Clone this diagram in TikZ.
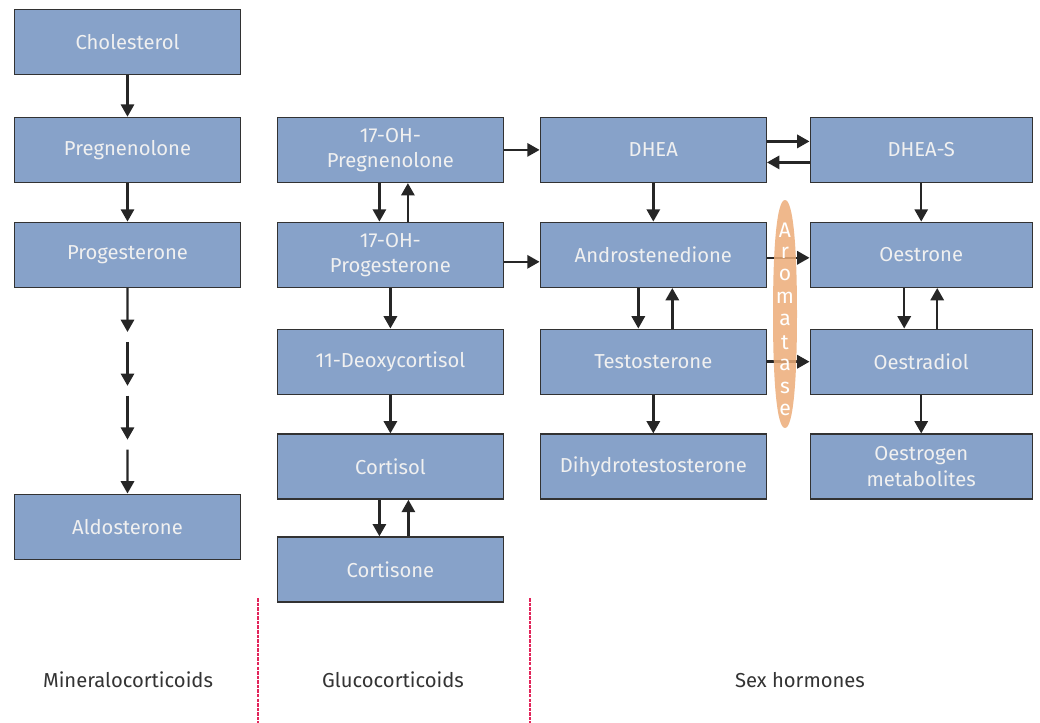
\documentclass[tikz,border=0pt]{standalone}
\usepackage{fontspec}
\setmainfont{Fira Sans}
\usetikzlibrary{positioning,arrows.meta,calc}
\definecolor{boxblue}{RGB}{135,162,201}
\definecolor{boxline}{RGB}{50,50,50}
\definecolor{aromorange}{RGB}{236,172,120}
\definecolor{splitred}{RGB}{226,36,90}
\tikzset{
	>={Triangle[length=7pt,width=7.5pt]}, % filled arrow heads
	hormone/.style={draw=boxline, line width=0.8pt, fill=boxblue, text=white!94!black, minimum width=4.52cm, minimum height=1.30cm, align=center, font=\fontsize{11.5}{14.5}\selectfont, inner sep=2pt}, % the blue boxes
	path/.style={->, line width=1.4pt, draw=black!85}, % the conversion arrows
	group/.style={text=black!80, font=\fontsize{11.5}{13}\selectfont}, % the labels at the bottom
}
\begin{document}
\begin{tikzpicture}
	\useasboundingbox (0,0) rectangle (20.8,-14.46);
	% mineralocorticoids
	\node[hormone] (chol) at (2.55,-0.84) {Cholesterol};
	\node[hormone,below=0.83cm of chol] (preg) {Pregnenolone};
	\node[hormone,below=0.77cm of preg] (prog) {Progesterone};
	\node[hormone,below=4.11cm of prog] (aldo) {Aldosterone};
	% glucocorticoids
	\node[hormone,right=0.71cm of preg] (ohpreg) {17-OH-\\Pregnenolone};
	\node[hormone,below=0.77cm of ohpreg] (ohprog) {17-OH-\\Progesterone};
	\node[hormone,below=0.81cm of ohprog] (deoxy) {11-Deoxycortisol};
	\node[hormone,below=0.77cm of deoxy] (cortisol) {Cortisol};
	\node[hormone,below=0.73cm of cortisol] (cortisone) {Cortisone};
	% sex hormones
	\node[hormone,right=0.71cm of ohpreg] (dhea) {DHEA};
	\node[hormone,right=0.71cm of ohprog] (andro) {Androstenedione};
	\node[hormone,right=0.71cm of deoxy] (testo) {Testosterone};
	\node[hormone,right=0.71cm of cortisol] (dht) {Dihydrotestosterone};
	\node[hormone,minimum width=4.44cm,right=0.85cm of dhea] (dheas) {DHEA-S};
	\node[hormone,minimum width=4.44cm,right=0.85cm of andro] (estrone) {Oestrone};
	\node[hormone,minimum width=4.44cm,right=0.85cm of testo] (estradiol) {Oestradiol};
	\node[hormone,minimum width=4.44cm,right=0.85cm of dht] (estmet) {Oestrogen\\metabolites};

	\draw[path] (chol) -- (preg);
	\draw[path] (preg) -- (prog);
	\foreach \a/\b in {0/0.214, 0.262/0.476, 0.524/0.738, 0.786/1}
		\draw[path] ($(prog.south)!\a!(aldo.north)$) -- ($(prog.south)!\b!(aldo.north)$);

	\draw[path] ([xshift=-0.22cm]ohpreg.south) -- ([xshift=-0.22cm]ohprog.north);
	\draw[path] ([xshift=0.35cm]ohprog.north) -- ([xshift=0.35cm]ohpreg.south);
	\draw[path] (ohprog) -- (deoxy);
	\draw[path] (deoxy) -- (cortisol);
	\draw[path] ([xshift=-0.22cm]cortisol.south) -- ([xshift=-0.22cm]cortisone.north);
	\draw[path] ([xshift=0.36cm]cortisone.north) -- ([xshift=0.36cm]cortisol.south);

	\draw[path] (ohpreg) -- (dhea);
	\draw[path] ([yshift=-0.14cm]ohprog.east) -- ([yshift=-0.14cm]andro.west);
	\draw[path] ([yshift=0.17cm]dhea.east) -- ([yshift=0.17cm]dheas.west);
	\draw[path] ([yshift=-0.25cm]dheas.west) -- ([yshift=-0.25cm]dhea.east);
	\draw[path] (dhea) -- (andro);
	\draw[path] ([xshift=-0.3cm]andro.south) -- ([xshift=-0.3cm]testo.north);
	\draw[path] ([xshift=0.38cm]testo.north) -- ([xshift=0.38cm]andro.south);
	\draw[path] (testo) -- (dht);
	\draw[path] (dheas) -- (estrone);
	\draw[path] ([xshift=-0.34cm]estrone.south) -- ([xshift=-0.34cm]estradiol.north);
	\draw[path] ([xshift=0.32cm]estradiol.north) -- ([xshift=0.32cm]estrone.south);
	\draw[path] (estradiol) -- (estmet);
	\draw[path] ([yshift=-0.06cm]andro.east) -- ([yshift=-0.06cm]estrone.west);
	\draw[path] (testo) -- (estradiol);

	% aromatase
	\fill[aromorange, fill opacity=0.85] (15.70,-4.0) .. controls (15.86,-4.0) and (15.94,-4.9) .. (15.94,-6.28)
		.. controls (15.94,-7.66) and (15.86,-8.56) .. (15.70,-8.56)
		.. controls (15.54,-8.56) and (15.46,-7.66) .. (15.46,-6.28)
		.. controls (15.46,-4.9) and (15.54,-4.0) .. cycle;
	\foreach \l [count=\i from 0] in {A,r,o,m,a,t,a,s,e}
		\node[text=white, font=\fontsize{12}{13}\selectfont, inner sep=0pt] (arom\i) at (15.70,-4.6-0.45*\i) {\l};

	% groups
	\draw[splitred, line width=0.7pt, dash pattern=on 2pt off 0.6pt] (5.16,-11.96) -- (5.16,-14.46);
	\draw[splitred, line width=0.7pt, dash pattern=on 2pt off 0.6pt] (10.6,-11.96) -- (10.6,-14.46);
	\node[group] (mineral) at (2.56,-13.6) {Mineralocorticoids};
	\node[group] (gluco) at (7.86,-13.6) {Glucocorticoids};
	\node[group] (sex) at (16.0,-13.6) {Sex hormones};
\end{tikzpicture}
\end{document}
